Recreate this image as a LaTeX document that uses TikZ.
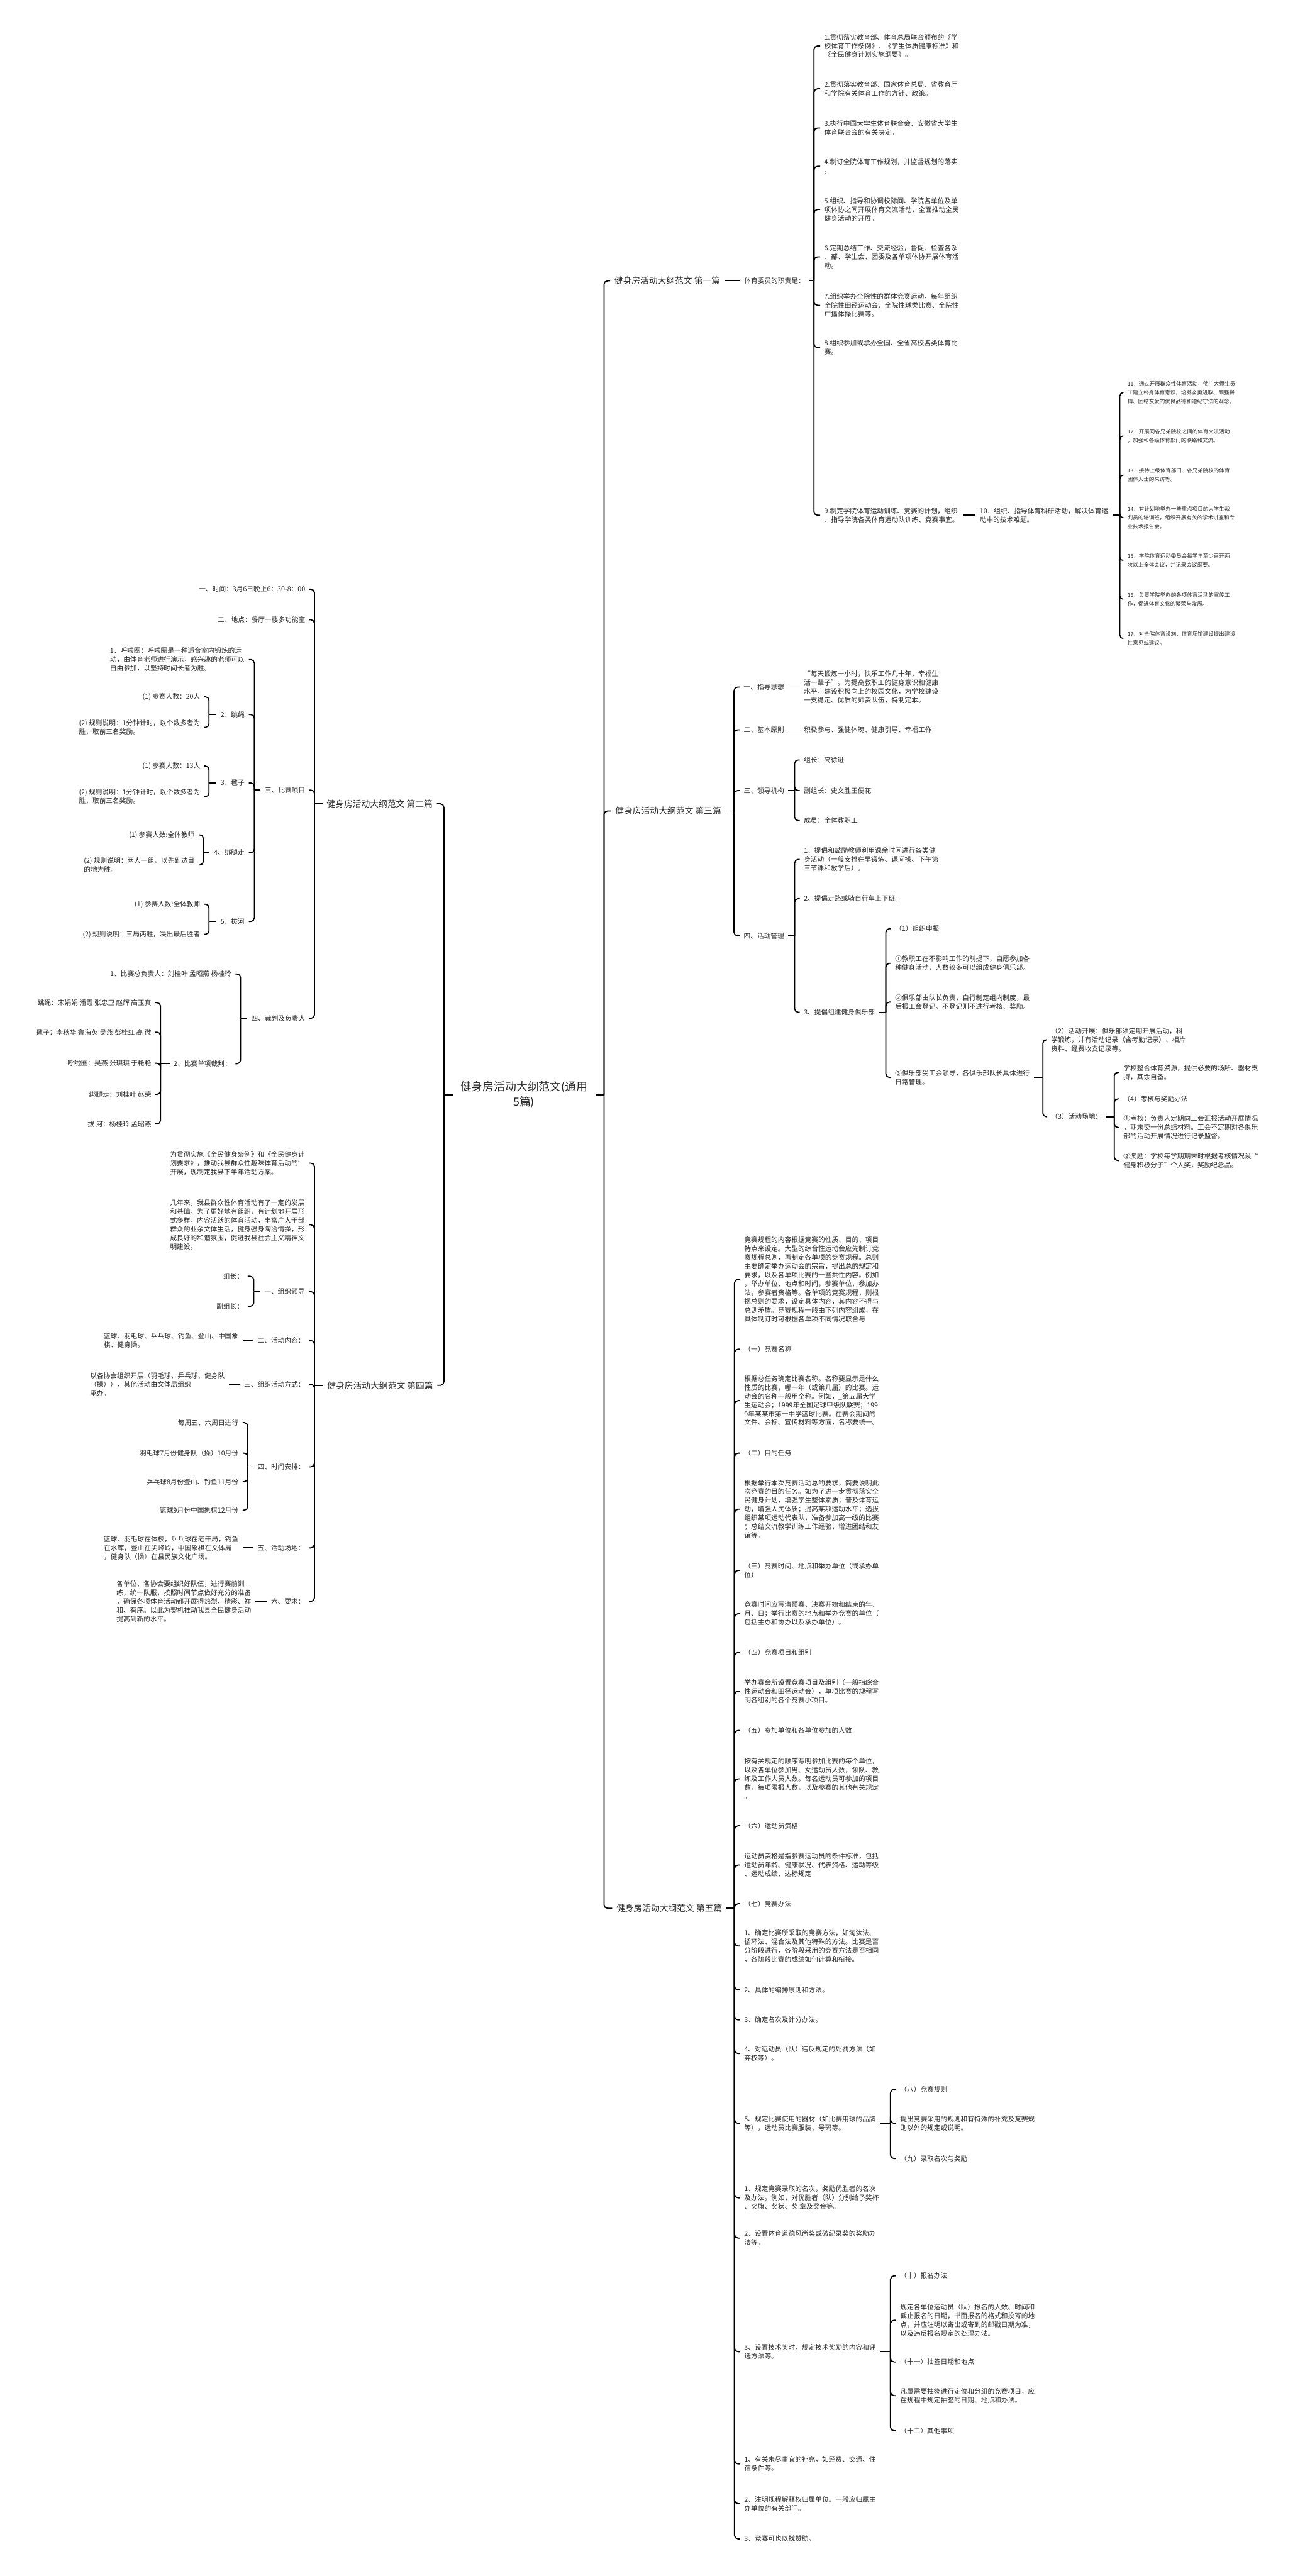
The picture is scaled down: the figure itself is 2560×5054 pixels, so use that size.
\documentclass[tikz,border=0pt]{standalone}
\usepackage{fontspec}
\setmainfont{Noto Sans CJK SC}
\tikzset{
  link/.style={line width=2.2pt, rounded corners=7pt},
  txt/.style={font=\fontsize{13.2}{17.2}\selectfont, inner xsep=8pt, inner ysep=0pt, align=left, text=black!85},
  rnode/.style={txt, anchor=west},
  lnode/.style={txt, anchor=east},
  snode/.style={rnode, font=\fontsize{10.5}{17.2}\selectfont},
  branch/.style={font=\fontsize{17}{22}\selectfont, inner xsep=8pt, inner ysep=0pt, text=black!85}
}
\begin{document}
\begin{tikzpicture}[x=1pt,y=-1pt]
\fill[white] (0,0) rectangle (2560,5054);
\useasboundingbox (0,0) rectangle (2560,5054);

% centre
\node[font=\fontsize{22}{30}\selectfont, align=center, inner xsep=15pt, inner ysep=0pt, text=black!85] (root) at (1028,2148) {健身房活动大纲范文(通用\\5篇)};
\coordinate (kr) at (1185,2148);
\coordinate (kl) at (871,2148);

% ---------- 第一篇 ----------
\node[branch, anchor=west] (p1) at (1197,551) {健身房活动大纲范文 第一篇};
\node[rnode] (p1a) at (1452,551) {体育委员的职责是：};
\coordinate (k1) at (1597,551);
\node[rnode] (p1i1) at (1609,90) {1.贯彻落实教育部、体育总局联合颁布的《学\\校体育工作条例》、《学生体质健康标准》和\\《全民健身计划实施纲要》。};
\node[rnode] (p1i2) at (1609,174) {2.贯彻落实教育部、国家体育总局、省教育厅\\和学院有关体育工作的方针、政策。};
\node[rnode] (p1i3) at (1609,251) {3.执行中国大学生体育联合会、安徽省大学生\\体育联合会的有关决定。};
\node[rnode] (p1i4) at (1609,326) {4.制订全院体育工作规划，并监督规划的落实\\。};
\node[rnode] (p1i5) at (1609,411) {5.组织、指导和协调校际间、学院各单位及单\\项体协之间开展体育交流活动，全面推动全民\\健身活动的开展。};
\node[rnode] (p1i6) at (1609,504) {6.定期总结工作、交流经验，督促、检查各系\\、部、学生会、团委及各单项体协开展体育活\\动。};
\node[rnode] (p1i7) at (1609,599) {7.组织举办全院性的群体竞赛运动，每年组织\\全院性田径运动会、全院性球类比赛、全院性\\广播体操比赛等。};
\node[rnode] (p1i8) at (1609,682) {8.组织参加或承办全国、全省高校各类体育比\\赛。};
\node[rnode] (p1i9) at (1609,1011) {9.制定学院体育运动训练、竞赛的计划，组织\\、指导学院各类体育运动队训练、竞赛事宜。};
\node[rnode] (p1i10) at (1914,1011) {10．组织、指导体育科研活动，解决体育运\\动中的技术难题。};
\coordinate (k10) at (2197,1011);
\node[snode] (p1i11) at (2204,770) {11．通过开展群众性体育活动，使广大师生员\\工建立终身体育意识，培养奋勇进取、顽强拼\\搏、团结友爱的优良品德和遵纪守法的观念。};
\node[snode] (p1i12) at (2204,855) {12．开展同各兄弟院校之间的体育交流活动\\，加强和各级体育部门的联络和交流。};
\node[snode] (p1i13) at (2204,932) {13．接待上级体育部门、各兄弟院校的体育\\团体人士的来访等。};
\node[snode] (p1i14) at (2204,1016) {14．有计划地举办一些重点项目的大学生裁\\判员的培训班，组织开展有关的学术讲座和专\\业技术报告会。};
\node[snode] (p1i15) at (2204,1100) {15．学院体育运动委员会每学年至少召开两\\次以上全体会议，并记录会议纲要。};
\node[snode] (p1i16) at (2204,1176) {16．负责学院举办的各项体育活动的宣传工\\作，促进体育文化的繁荣与发展。};
\node[snode] (p1i17) at (2204,1253) {17．对全院体育设施、体育场馆建设提出建设\\性意见或建议。};

\draw[link] (p1.east) -- (p1a.west);
\draw[link] (p1a.east) -- (k1);
\foreach \n in {p1i1,p1i2,p1i3,p1i4,p1i5,p1i6,p1i7,p1i8,p1i9}
  \draw[link] (k1) |- (\n.west);
\draw[link] (p1i9.east) -- (p1i10.west);
\draw[link] (p1i10.east) -- (k10);
\foreach \n in {p1i11,p1i12,p1i13,p1i14,p1i15,p1i16,p1i17}
  \draw[link] (k10) |- (\n.west);

% ---------- 第三篇 ----------
\node[branch, anchor=west] (p3) at (1199,1591) {健身房活动大纲范文 第三篇};
\coordinate (k3) at (1440,1591);
\node[rnode] (p3a) at (1451,1348) {一、指导思想};
\node[rnode] (p3b) at (1451,1432) {二、基本原则};
\node[rnode] (p3c) at (1451,1551) {三、领导机构};
\node[rnode] (p3d) at (1451,1836) {四、活动管理};
\node[rnode] (p3a1) at (1569,1348) {“每天锻炼一小时，快乐工作几十年，幸福生\\活一辈子”。为提高教职工的健身意识和健康\\水平，建设积极向上的校园文化，为学校建设\\一支稳定、优质的师资队伍，特制定本。};
\node[rnode] (p3b1) at (1569,1432) {积极参与、强健体魄、健康引导、幸福工作};
\coordinate (k3c) at (1559,1551);
\node[rnode] (p3c1) at (1569,1491) {组长：高徐进};
\node[rnode] (p3c2) at (1569,1551) {副组长：史文胜王便花};
\node[rnode] (p3c3) at (1569,1610) {成员：全体教职工};
\coordinate (k3d) at (1559,1836);
\node[rnode] (p3d1) at (1569,1686) {1、提倡和鼓励教师利用课余时间进行各类健\\身活动（一般安排在早锻炼、课间操、下午第\\三节课和放学后）。};
\node[rnode] (p3d2) at (1569,1763) {2、提倡走路或骑自行车上下班。};
\node[rnode] (p3d3) at (1569,1986) {3、提倡组建健身俱乐部};
\coordinate (k3e) at (1738,1986);
\node[rnode] (p3e1) at (1748,1822) {（1）组织申报};
\node[rnode] (p3e2) at (1748,1890) {①教职工在不影响工作的前提下，自愿参加各\\种健身活动，人数较多可以组成健身俱乐部。};
\node[rnode] (p3e3) at (1748,1966) {②俱乐部由队长负责，自行制定组内制度，最\\后报工会登记。不登记则不进行考核、奖励。};
\node[rnode] (p3e4) at (1748,2114) {③俱乐部受工会领导，各俱乐部队长具体进行\\日常管理。};
\coordinate (k3f) at (2046,2114);
\node[rnode] (p3f1) at (2054,2040) {（2）活动开展：俱乐部须定期开展活动，科\\学锻炼，并有活动记录（含考勤记录）、相片\\资料、经费收支记录等。};
\node[rnode] (p3f2) at (2054,2191) {（3）活动场地：};
\coordinate (k3g) at (2186,2191);
\node[rnode] (p3g1) at (2196,2104) {学校整合体育资源，提供必要的场所、器材支\\持，其余自备。};
\node[rnode] (p3g2) at (2196,2156) {（4）考核与奖励办法};
\node[rnode] (p3g3) at (2196,2212) {①考核：负责人定期向工会汇报活动开展情况\\，期末交一份总结材料。工会不定期对各俱乐\\部的活动开展情况进行记录监督。};
\node[rnode] (p3g4) at (2196,2277) {②奖励：学校每学期期末时根据考核情况设“\\健身积极分子”个人奖，奖励纪念品。};

\draw[link] (p3.east) -- (k3);
\foreach \n in {p3a,p3b,p3c,p3d}
  \draw[link] (k3) |- (\n.west);
\draw[link] (p3a.east) -- (p3a1.west);
\draw[link] (p3b.east) -- (p3b1.west);
\draw[link] (p3c.east) -- (k3c);
\foreach \n in {p3c1,p3c2,p3c3}
  \draw[link] (k3c) |- (\n.west);
\draw[link] (p3d.east) -- (k3d);
\foreach \n in {p3d1,p3d2,p3d3}
  \draw[link] (k3d) |- (\n.west);
\draw[link] (p3d3.east) -- (k3e);
\foreach \n in {p3e1,p3e2,p3e3,p3e4}
  \draw[link] (k3e) |- (\n.west);
\draw[link] (p3e4.east) -- (k3f);
\foreach \n in {p3f1,p3f2}
  \draw[link] (k3f) |- (\n.west);
\draw[link] (p3f2.east) -- (k3g);
\foreach \n in {p3g1,p3g2,p3g3,p3g4}
  \draw[link] (k3g) |- (\n.west);

% ---------- 第五篇 ----------
\node[branch, anchor=west] (p5) at (1201,3744) {健身房活动大纲范文 第五篇};
\coordinate (k5) at (1441,3744);
\node[rnode] (p5c1) at (1452,2510) {竞赛规程的内容根据竞赛的性质、目的、项目\\特点来设定。大型的综合性运动会应先制订竞\\赛规程总则，再制定各单项的竞赛规程。总则\\主要确定举办运动会的宗旨，提出总的规定和\\要求，以及各单项比赛的一些共性内容。例如\\，举办单位、地点和时间，参赛单位，参加办\\法，参赛者资格等。各单项的竞赛规程，则根\\据总则的要求，设定具体内容，其内容不得与\\总则矛盾。竞赛规程一般由下列内容组成，在\\具体制订时可根据各单项不同情况取舍与};
\node[rnode] (p5c2) at (1452,2647) {（一）竞赛名称};
\node[rnode] (p5c3) at (1452,2748) {根据总任务确定比赛名称。名称要显示是什么\\性质的比赛，哪一年（或第几届）的比赛。运\\动会的名称一般用全称。例如，\_第五届大学\\生运动会；1999年全国足球甲级队联赛；199\\9年某某市第一中学篮球比赛。在赛会期间的\\文件、会标、宣传材料等方面，名称要统一。};
\node[rnode] (p5c4) at (1452,2851) {（二）目的任务};
\node[rnode] (p5c5) at (1452,2961) {根据举行本次竞赛活动总的要求，简要说明此\\次竞赛的目的任务。如为了进一步贯彻落实全\\民健身计划，增强学生整体素质；普及体育运\\动，增强人民体质；提高某项运动水平；选拔\\组织某项运动代表队，准备参加高一级的比赛\\；总结交流教学训练工作经验，增进团结和友\\谊等。};
\node[rnode] (p5c6) at (1452,3081) {（三）竞赛时间、地点和举办单位（或承办单\\位）};
\node[rnode] (p5c7) at (1452,3166) {竞赛时间应写清预赛、决赛开始和结束的年、\\月、日；举行比赛的地点和举办竞赛的单位（\\包括主办和协办以及承办单位）。};
\node[rnode] (p5c8) at (1452,3242) {（四）竞赛项目和组别};
\node[rnode] (p5c9) at (1452,3318) {举办赛会所设置竞赛项目及组别（一般指综合\\性运动会和田径运动会），单项比赛的规程写\\明各组别的各个竞赛小项目。};
\node[rnode] (p5c10) at (1452,3395) {（五）参加单位和各单位参加的人数};
\node[rnode] (p5c11) at (1452,3490) {按有关规定的顺序写明参加比赛的每个单位，\\以及各单位参加男、女运动员人数，领队、教\\练及工作人员人数。每名运动员可参加的项目\\数，每项限报人数，以及参赛的其他有关规定\\。};
\node[rnode] (p5c12) at (1452,3582) {（六）运动员资格};
\node[rnode] (p5c13) at (1452,3659) {运动员资格是指参赛运动员的条件标准，包括\\运动员年龄、健康状况、代表资格、运动等级\\、运动成绩、达标规定};
\node[rnode] (p5c14) at (1452,3735) {（七）竞赛办法};
\node[rnode] (p5c15) at (1452,3818) {1、确定比赛所采取的竞赛方法，如淘汰法、\\循环法、混合法及其他特殊的方法。比赛是否\\分阶段进行，各阶段采用的竞赛方法是否相同\\，各阶段比赛的成绩如何计算和衔接。};
\node[rnode] (p5c16) at (1452,3904) {2、具体的编排原则和方法。};
\node[rnode] (p5c17) at (1452,3963) {3、确定名次及计分办法。};
\node[rnode] (p5c18) at (1452,4029) {4、对运动员（队）违反规定的处罚方法（如\\弃权等）。};
\node[rnode] (p5c19) at (1452,4166) {5、规定比赛使用的器材（如比赛用球的品牌\\等），运动员比赛服装、号码等。};
\node[rnode] (p5c20) at (1452,4312) {1、规定竞赛录取的名次，奖励优胜者的名次\\及办法。例如，对优胜者（队）分别给予奖杯\\、奖旗、奖状、奖 章及奖金等。};
\node[rnode] (p5c21) at (1452,4391) {2、设置体育道德风尚奖或破纪录奖的奖励办\\法等。};
\node[rnode] (p5c22) at (1452,4614) {3、设置技术奖时，规定技术奖励的内容和评\\选方法等。};
\node[rnode] (p5c23) at (1452,4834) {1、有关未尽事宜的补充，如经费、交通、住\\宿条件等。};
\node[rnode] (p5c24) at (1452,4912) {2、注明规程解释权归属单位。一般应归属主\\办单位的有关部门。};
\node[rnode] (p5c25) at (1452,4981) {3、竞赛可也以找赞助。};
\coordinate (k5s) at (1747,4166);
\node[rnode] (p5s1) at (1758,4099) {（八）竞赛规则};
\node[rnode] (p5s2) at (1758,4166) {提出竞赛采用的规则和有特殊的补充及竞赛规\\则以外的规定或说明。};
\node[rnode] (p5s3) at (1758,4235) {（九）录取名次与奖励};
\coordinate (k5t) at (1747,4614);
\node[rnode] (p5t1) at (1758,4465) {（十）报名办法};
\node[rnode] (p5t2) at (1758,4552) {规定各单位运动员（队）报名的人数、时间和\\截止报名的日期，书面报名的格式和投寄的地\\点，并应注明以寄出或寄到的邮戳日期为准，\\以及违反报名规定的处理办法。};
\node[rnode] (p5t3) at (1758,4634) {（十一）抽签日期和地点};
\node[rnode] (p5t4) at (1758,4700) {凡属需要抽签进行定位和分组的竞赛项目，应\\在规程中规定抽签的日期、地点和办法。};
\node[rnode] (p5t5) at (1758,4769) {（十二）其他事项};

\draw[link] (p5.east) -- (k5);
\foreach \n in {p5c1,p5c2,p5c3,p5c4,p5c5,p5c6,p5c7,p5c8,p5c9,p5c10,p5c11,p5c12,p5c13,p5c14,p5c15,p5c16,p5c17,p5c18,p5c19,p5c20,p5c21,p5c22,p5c23,p5c24,p5c25}
  \draw[link] (k5) |- (\n.west);
\draw[link] (p5c19.east) -- (k5s);
\foreach \n in {p5s1,p5s2,p5s3}
  \draw[link] (k5s) |- (\n.west);
\draw[link] (p5c22.east) -- (k5t);
\foreach \n in {p5t1,p5t2,p5t3,p5t4,p5t5}
  \draw[link] (k5t) |- (\n.west);

% ---------- 第二篇 ----------
\node[branch, anchor=east] (p2) at (857,1577) {健身房活动大纲范文 第二篇};
\coordinate (k2) at (617,1577);
\node[lnode] (p2a) at (607,1156) {一、时间：3月6日晚上6：30-8：00};
\node[lnode] (p2b) at (607,1216) {二、地点：餐厅一楼多功能室};
\node[lnode] (p2c) at (607,1550) {三、比赛项目};
\node[lnode] (p2d) at (607,1998) {四、裁判及负责人};
\coordinate (k2c) at (499,1550);
\node[lnode] (p2c1) at (488,1294) {1、呼啦圈：呼啦圈是一种适合室内锻炼的运\\动，由体育老师进行演示，感兴趣的老师可以\\自由参加，以坚持时间长者为胜。};
\node[lnode] (p2c2) at (488,1402) {2、跳绳};
\node[lnode] (p2c3) at (488,1536) {3、毽子};
\node[lnode] (p2c4) at (488,1673) {4、绑腿走};
\node[lnode] (p2c5) at (488,1808) {5、拔河};
\coordinate (k2c2) at (410,1402);
\node[lnode] (p2c21) at (401,1367) {(1) 参赛人数：20人};
\node[lnode] (p2c22) at (401,1427) {(2) 规则说明：1分钟计时，以个数多者为\\胜，取前三名奖励。};
\coordinate (k2c3) at (410,1536);
\node[lnode] (p2c31) at (401,1503) {(1) 参赛人数：13人};
\node[lnode] (p2c32) at (401,1563) {(2) 规则说明：1分钟计时，以个数多者为\\胜，取前三名奖励。};
\coordinate (k2c4) at (399,1673);
\node[lnode] (p2c41) at (390,1638) {(1) 参赛人数:全体教师};
\node[lnode] (p2c42) at (390,1697) {(2) 规则说明：两人一组，以先到达目\\的地为胜。};
\coordinate (k2c5) at (410,1808);
\node[lnode] (p2c51) at (401,1774) {(1) 参赛人数:全体教师};
\node[lnode] (p2c52) at (401,1833) {(2) 规则说明：三局两胜，决出最后胜者};
\coordinate (k2d) at (472,1998);
\node[lnode] (p2d1) at (462,1911) {1、比赛总负责人：刘桂叶 孟昭燕 杨桂玲};
\node[lnode] (p2d2) at (462,2087) {2、比赛单项裁判：};
\coordinate (k2e) at (315,2087);
\node[lnode] (p2e1) at (305,1967) {跳绳：宋娟娟 潘霞 张忠卫 赵辉 高玉真};
\node[lnode] (p2e2) at (305,2025) {毽子：李秋华 鲁海英 吴燕 彭桂红 高 微};
\node[lnode] (p2e3) at (305,2086) {呼啦圈：吴燕 张琪琪 于艳艳};
\node[lnode] (p2e4) at (305,2147) {绑腿走：刘桂叶 赵荣};
\node[lnode] (p2e5) at (305,2205) {拔 河：杨桂玲 孟昭燕};

\draw[link] (p2.west) -- (k2);
\foreach \n in {p2a,p2b,p2c,p2d}
  \draw[link] (k2) |- (\n.east);
\draw[link] (p2c.west) -- (k2c);
\foreach \n in {p2c1,p2c2,p2c3,p2c4,p2c5}
  \draw[link] (k2c) |- (\n.east);
\draw[link] (p2c2.west) -- (k2c2);
\foreach \n in {p2c21,p2c22}
  \draw[link] (k2c2) |- (\n.east);
\draw[link] (p2c3.west) -- (k2c3);
\foreach \n in {p2c31,p2c32}
  \draw[link] (k2c3) |- (\n.east);
\draw[link] (p2c4.west) -- (k2c4);
\foreach \n in {p2c41,p2c42}
  \draw[link] (k2c4) |- (\n.east);
\draw[link] (p2c5.west) -- (k2c5);
\foreach \n in {p2c51,p2c52}
  \draw[link] (k2c5) |- (\n.east);
\draw[link] (p2d.west) -- (k2d);
\foreach \n in {p2d1,p2d2}
  \draw[link] (k2d) |- (\n.east);
\draw[link] (p2d2.west) -- (k2e);
\foreach \n in {p2e1,p2e2,p2e3,p2e4,p2e5}
  \draw[link] (k2e) |- (\n.east);

% ---------- 第四篇 ----------
\node[branch, anchor=east] (p4) at (858,2718) {健身房活动大纲范文 第四篇};
\coordinate (k4) at (617,2718);
\node[lnode] (p4a) at (606,2282) {为贯彻实施《全民健身条例》和《全民健身计\\划要求》，推动我县群众性趣味体育活动的'\\开展，现制定我县下半年活动方案。};
\node[lnode] (p4b) at (606,2403) {几年来，我县群众性体育活动有了一定的发展\\和基础。为了更好地有组织，有计划地开展形\\式多样，内容活跃的体育活动，丰富广大干部\\群众的业余文体生活，健身强身陶冶情操，形\\成良好的和谐氛围，促进我县社会主义精神文\\明建设。};
\node[lnode] (p4c) at (606,2534) {一、组织领导};
\node[lnode] (p4d) at (606,2630) {二、活动内容：};
\node[lnode] (p4e) at (606,2716) {三、组织活动方式：};
\node[lnode] (p4f) at (606,2878) {四、时间安排：};
\node[lnode] (p4g) at (606,3037) {五、活动场地：};
\node[lnode] (p4h) at (606,3142) {六、要求：};
\coordinate (k4c) at (498,2534);
\node[lnode] (p4c1) at (486,2504) {组长：};
\node[lnode] (p4c2) at (486,2563) {副组长：};
\node[lnode] (p4d1) at (476,2630) {篮球、羽毛球、乒乓球、钓鱼、登山、中国象\\棋、健身操。};
\node[lnode] (p4e1) at (449,2716) {以各协会组织开展（羽毛球、乒乓球、健身队\\（操）），其他活动由文体局组织\\承办。};
\coordinate (k4f) at (486,2878);
\node[lnode] (p4f1) at (476,2791) {每周五、六周日进行};
\node[lnode] (p4f2) at (476,2851) {羽毛球7月份健身队（操）10月份};
\node[lnode] (p4f3) at (476,2907) {乒乓球8月份登山、钓鱼11月份};
\node[lnode] (p4f4) at (476,2963) {篮球9月份中国象棋12月份};
\node[lnode] (p4g1) at (476,3037) {篮球、羽毛球在体校，乒乓球在老干局，钓鱼\\在水库，登山在尖峰岭，中国象棋在文体局\\，健身队（操）在县民族文化广场。};
\node[lnode] (p4h1) at (501,3142) {各单位、各协会要组织好队伍，进行赛前训\\练，统一队服，按照时间节点做好充分的准备\\，确保各项体育活动都开展得热烈、精彩、祥\\和、有序。以此为契机推动我县全民健身活动\\提高到新的水平。};

\draw[link] (p4.west) -- (k4);
\foreach \n in {p4a,p4b,p4c,p4d,p4e,p4f,p4g,p4h}
  \draw[link] (k4) |- (\n.east);
\draw[link] (p4c.west) -- (k4c);
\foreach \n in {p4c1,p4c2}
  \draw[link] (k4c) |- (\n.east);
\draw[link] (p4d.west) -- (p4d1.east);
\draw[link] (p4e.west) -- (p4e1.east);
\draw[link] (p4f.west) -- (k4f);
\foreach \n in {p4f1,p4f2,p4f3,p4f4}
  \draw[link] (k4f) |- (\n.east);
\draw[link] (p4g.west) -- (p4g1.east);
\draw[link] (p4h.west) -- (p4h1.east);

% trunks
\draw[link] (root.east) -- (kr);
\foreach \n in {p1,p3,p5}
  \draw[link] (kr) |- (\n.west);
\draw[link] (root.west) -- (kl);
\foreach \n in {p2,p4}
  \draw[link] (kl) |- (\n.east);
\end{tikzpicture}
\end{document}
